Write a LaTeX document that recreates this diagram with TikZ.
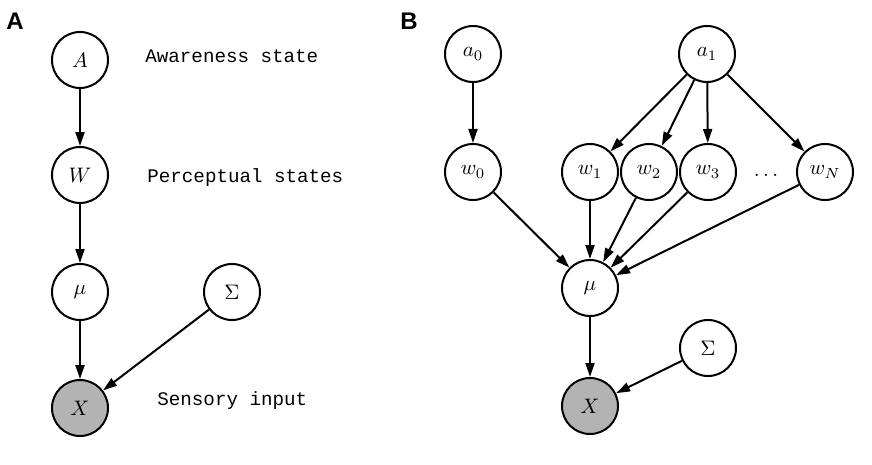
\RequirePackage{fix-cm}
\documentclass[tikz,border=0pt]{standalone}
\usepackage{fontspec}
\setmonofont{Liberation Mono}
\newfontfamily\panelsans{Liberation Sans}
\usepackage{tikz}
\usetikzlibrary{shapes.geometric, arrows.meta, positioning}
\definecolor{obsgray}{RGB}{179,179,179}
\tikzstyle{var} = [circle, draw=black, line width=1pt, minimum size=28pt, inner sep=0pt, fill=white, font=\fontsize{10.5}{12}\selectfont]
\tikzstyle{obs} = [var, fill=obsgray]
\tikzstyle{arrow} = [line width=1pt, -{Triangle[length=7pt,width=4.5pt]}]
\tikzstyle{desc} = [inner sep=0pt, font=\fontsize{9.6}{12}\selectfont\ttfamily]
\tikzstyle{panel} = [inner sep=0pt, font=\fontsize{12}{14}\selectfont\panelsans\bfseries]

\begin{document}
\begin{tikzpicture}[x=0.5pt, y=-0.5pt, node distance=29pt]
  \useasboundingbox (0,0) rectangle (872,465);

  % panel A
  \node[panel] (labA) at (15,21) {A};
  \node[var] (A) at (80,60) {$A$};
  \node[var, below=28.5pt of A] (W) {$W$};
  \node[var, below=29.5pt of W] (mu) {$\mu$};
  \node[obs, below=of mu] (X) {$X$};
  \node[var, right=47pt of mu] (Sig) {$\Sigma$};
  \node[desc, right=18pt of A, yshift=2pt] (tA) {Awareness state};
  \node[desc, right=19pt of W, yshift=-1.5pt] (tW) {Perceptual states};
  \node[desc, right=24pt of X, yshift=3.5pt] (tX) {Sensory input};

  \draw[arrow] (A) -- (W);
  \draw[arrow] (W) -- (mu);
  \draw[arrow] (mu) -- (X);
  \draw[arrow] (Sig) -- (X);

  % panel B
  \node[panel] (labB) at (409,21) {B};
  \node[var] (a0) at (473,54) {$a_0$};
  \node[var] (a1) at (707,54) {$a_1$};
  \node[var, below=30pt of a0] (w0) {$w_0$};
  \node[var] (w1) at (590,172) {$w_1$};
  \node[var, right=0.5pt of w1] (w2) {$w_2$};
  \node[var, right=0.5pt of w2] (w3) {$w_3$};
  \node[inner sep=0pt, font=\fontsize{10.5}{12}\selectfont] (dots) at (766,175) {$\ldots$};
  \node[var] (wN) at (825,172) {$w_N$};
  \node[var, below=29pt of w1] (muB) {$\mu$};
  \node[obs, below=30pt of muB] (XB) {$X$};
  \node[var] (SigB) at (708,348) {$\Sigma$};

  \draw[arrow] (a0) -- (w0);
  \foreach \w in {w1, w2, w3, wN}
    \draw[arrow] (a1) -- (\w);
  \foreach \w in {w0, w1, w2, w3, wN}
    \draw[arrow] (\w) -- (muB);
  \draw[arrow] (muB) -- (XB);
  \draw[arrow] (SigB) -- (XB);
\end{tikzpicture}
\end{document}
